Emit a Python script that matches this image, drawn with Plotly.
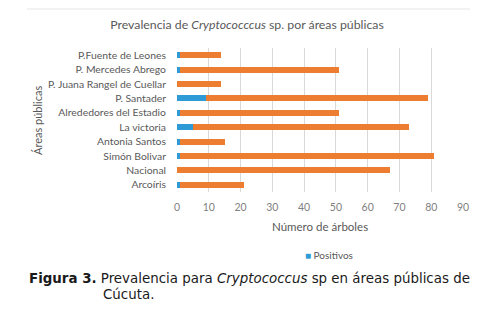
import plotly.graph_objects as go

# Data (top-to-bottom order as shown)
areas = ["P.Fuente de Leones", "P. Mercedes Abrego", "P. Juana Rangel de Cuellar",
         "P. Santader", "Alrededores del Estadio", "La victoria", "Antonia Santos",
         "Simón Bolivar", "Nacional", "Arcoíris"]
positivos = [1, 1, 0, 9, 1, 5, 1, 1, 0, 1]
negativos = [13, 50, 14, 70, 50, 68, 14, 80, 67, 20]
x_ticks = [0, 10, 20, 30, 40, 50, 60, 70, 80, 90]

BLUE = "#2E9BD6"
ORANGE = "#ED7D31"
GRAY = "#595959"

OFF = 8  # page body margin offset
W, H = 484, 317
L, T = 177 - OFF, 48 - OFF
pw, ph = 286, 144
R = W - L - pw
B = H - T - ph

def px_x(px):
    return (px - OFF - L) / pw

def px_y(py):
    return (T + ph - (py - OFF)) / ph

fig = go.Figure()
fig.add_trace(go.Bar(y=areas, x=positivos, orientation="h", name="Positivos",
                     marker=dict(color=BLUE, line=dict(width=0)), showlegend=False))
fig.add_trace(go.Bar(y=areas, x=negativos, orientation="h", name="Negativos",
                     marker=dict(color=ORANGE, line=dict(width=0)), showlegend=False))

fig.update_layout(
    width=W, height=H,
    margin=dict(l=L, r=R, t=T, b=B, autoexpand=False),
    paper_bgcolor="white", plot_bgcolor="white",
    barmode="stack", bargap=0.58,
    font=dict(family="Lato, sans-serif", color=GRAY),
    title=dict(text="Prevalencia de <i>Cryptococccus</i> sp. por áreas públicas",
               x=(247 - OFF) / W, xref="container", xanchor="center",
               y=1 - (25 - OFF) / H, yref="container", yanchor="middle",
               font=dict(size=12.3, color=GRAY, family="Lato, sans-serif")),
    xaxis=dict(range=[0, 90], tickvals=x_ticks, showgrid=True, gridcolor="#D9D9D9",
               gridwidth=1, zeroline=False, showline=False, ticks="",
               tickfont=dict(size=10.5, color="#7F7F7F"), ticklabelstandoff=7,
               fixedrange=True),
    yaxis=dict(autorange="reversed", showgrid=False, zeroline=False, showline=False,
               ticks="", tickfont=dict(size=10.4, color=GRAY), ticklabelstandoff=10,
               fixedrange=True),
)

annotations = [
    dict(text="Número de árboles", x=px_x(320), y=px_y(226), xref="paper", yref="paper",
         showarrow=False, font=dict(size=11.5, color=GRAY), xanchor="center", yanchor="middle"),
    dict(text="Áreas públicas", x=px_x(37), y=px_y(121), xref="paper", yref="paper",
         showarrow=False, textangle=-90, font=dict(size=11, color=GRAY),
         xanchor="center", yanchor="middle"),
    dict(text=f"<span style='color:{BLUE}'>■</span> Positivos", x=px_x(303), y=px_y(255),
         xref="paper", yref="paper", showarrow=False, font=dict(size=10, color=GRAY),
         xanchor="left", yanchor="middle"),
    dict(text="<b>Figura 3.</b> Prevalencia para <i>Cryptococcus</i> sp en áreas públicas de",
         x=px_x(27), y=px_y(278), xref="paper", yref="paper", showarrow=False,
         font=dict(size=13.4, color="#1a1a1a", family="DejaVu Sans, Verdana, sans-serif"),
         xanchor="left", yanchor="middle"),
    dict(text="Cúcuta.", x=px_x(101), y=px_y(294), xref="paper", yref="paper", showarrow=False,
         font=dict(size=13.4, color="#1a1a1a", family="DejaVu Sans, Verdana, sans-serif"),
         xanchor="left", yanchor="middle"),
]
fig.update_layout(annotations=annotations)

fig.add_shape(type="line", xref="paper", yref="paper",
              x0=px_x(27), x1=px_x(470), y0=px_y(9), y1=px_y(9),
              line=dict(color="#E6E6E6", width=1))

fig.write_html("out.html")
